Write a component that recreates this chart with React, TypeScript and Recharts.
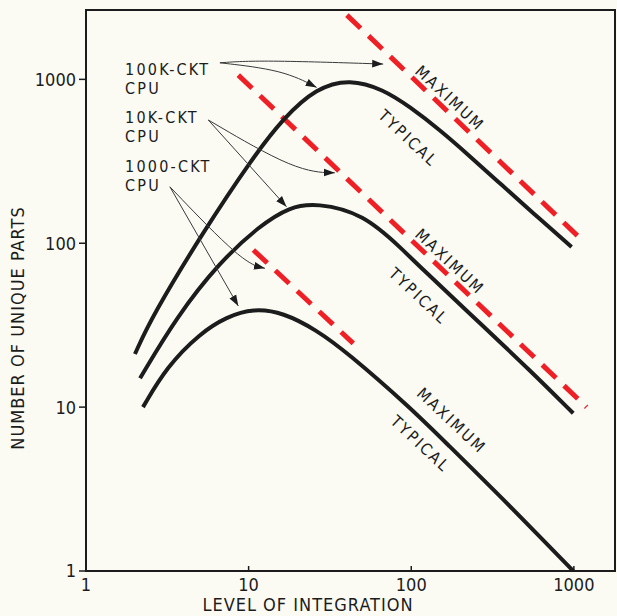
import { LineChart, Line, XAxis, YAxis, ReferenceDot, ReferenceArea, Label } from "recharts";

const FONT = "'DejaVu Sans Condensed', 'DejaVu Sans', sans-serif";
const INK = "#1c1c1c";
const RED = "#ee2026";

const X_TICKS = [1, 10, 100, 1000];
const Y_TICKS = [1, 10, 100, 1000];

// typical curves (level of integration, unique parts)
const CPU_100K = [
  [2.0, 21.1], [2.54, 35.6], [5.26, 117.5], [10.7, 337], [16.3, 578], [26.2, 890], [42, 1005],
  [67, 870], [98, 681], [150, 491], [219, 354], [351, 232], [560, 153], [968, 95],
];
const CPU_10K = [
  [2.15, 15], [3.61, 35.6], [6.66, 77], [11.7, 128], [17.9, 167], [26.2, 176], [50.7, 152],
  [89, 91], [113, 71.9], [264, 32.6], [536, 16.8], [991, 9.17],
];
const CPU_1K = [
  [2.24, 10], [3.13, 17.6], [5.02, 28.2], [7.33, 35.6], [10.7, 40], [16.3, 37.8], [26.2, 29.5],
  [40, 21.7], [98, 10], [165, 6.0], [351, 2.87], [562, 1.78], [991, 1.0],
];

// maximum lines
const MAX_100K = [[40.2, 2467], [1120, 104.7]];
const MAX_10K = [[8.64, 1062], [1197, 10]];
const MAX_1K = [[10.7, 90.9], [44, 24.5]];

// pointer arrows from the CPU labels
const ARROWS = [
  [[6.66, 1262], [11.7, 1312], [67.2, 1240]],
  [[6.66, 1262], [16.3, 1140], [26.2, 893]],
  [[5.65, 565], [19.7, 273], [33.9, 269]],
  [[5.65, 565], [17.1, 167]],
  [[3.28, 221], [9.27, 75.4], [12.6, 70.3]],
  [[3.28, 221], [8.64, 41.4]],
];

const CPU_LABELS = [
  { x: 1.74, y: 1062, text: "100K-CKT" },
  { x: 1.74, y: 541, text: "10K-CKT" },
  { x: 1.74, y: 272, text: "1000-CKT" },
];

const CURVE_LABELS = [
  { x: 173, y: 766, text: "MAXIMUM" },
  { x: 95.8, y: 437, text: "TYPICAL" },
  { x: 173, y: 77.1, text: "MAXIMUM" },
  { x: 111, y: 47.6, text: "TYPICAL" },
  { x: 177, y: 8.26, text: "MAXIMUM" },
  { x: 114, y: 5.96, text: "TYPICAL" },
];

const pts = (a: number[][]) => a.map(([x, y]) => ({ x, y }));

const XTick = ({ x, y, payload }: any) => (
  <g>
    <line x1={x} x2={x} y1={y} y2={y - 5} stroke={INK} strokeWidth={1.5} />
    <text x={x} y={y + 20} textAnchor="middle" fontSize={18} fill={INK} fontFamily={FONT}>
      {payload.value}
    </text>
  </g>
);

export default function App() {
  return (
    <div style={{ position: "absolute", left: 0, top: 0, width: 617, height: 616, background: "#fbfbf4" }}>
      <svg width={0} height={0} style={{ position: "absolute" }}>
        <defs>
          <marker id="arrowHead" viewBox="0 0 10 10" refX={10} refY={5} markerWidth={11} markerHeight={11}
            markerUnits="userSpaceOnUse" orient="auto">
            <path d="M0,1.5 L10,5 L0,8.5 z" fill={INK} />
          </marker>
        </defs>
      </svg>
      <LineChart width={617} height={616} margin={{ top: 10, right: 2, bottom: 0, left: 0 }}>
        <XAxis
          dataKey="x"
          type="number"
          scale="log"
          domain={[1, 1790]}
          allowDataOverflow
          ticks={X_TICKS}
          tickLine={false}
          tickSize={0}
          tickMargin={0}
          tick={<XTick />}
          height={45}
          axisLine={{ stroke: INK, strokeWidth: 2 }}
        >
          <Label
            content={({ viewBox }: any) => (
              <text x={viewBox.x + 222} y={viewBox.y + 40} textAnchor="middle" fontSize={18} fill={INK}
                fontFamily={FONT} letterSpacing={1}>
                LEVEL OF INTEGRATION
              </text>
            )}
          />
        </XAxis>
        <YAxis
          type="number"
          scale="log"
          domain={[1, 2650]}
          allowDataOverflow
          ticks={Y_TICKS}
          width={86}
          tickSize={7}
          tickMargin={3}
          tickLine={{ stroke: INK, strokeWidth: 1.5 }}
          tick={{ fontSize: 18, fill: INK, fontFamily: FONT }}
          axisLine={{ stroke: INK, strokeWidth: 2 }}
        >
          <Label
            content={({ viewBox }: any) => (
              <text x={17} y={viewBox.y + 318} textAnchor="middle" dominantBaseline="central" fontSize={18}
                fill={INK} fontFamily={FONT} letterSpacing={1}
                transform={`rotate(-90 17 ${viewBox.y + 318})`}>
                NUMBER OF UNIQUE PARTS
              </text>
            )}
          />
        </YAxis>
        <ReferenceArea x1={1} x2={1790} y1={1} y2={2650} fill="none" stroke={INK} strokeWidth={2} ifOverflow="visible" />

        {[MAX_100K, MAX_10K, MAX_1K].map((d, i) => (
          <Line key={"max" + i} data={pts(d)} dataKey="y" type="linear" stroke={RED} strokeWidth={5}
            strokeDasharray="19 11" dot={false} activeDot={false} isAnimationActive={false} />
        ))}
        {[CPU_100K, CPU_10K, CPU_1K].map((d, i) => (
          <Line key={"typ" + i} data={pts(d)} dataKey="y" type="basis" stroke={INK} strokeWidth={4}
            dot={false} activeDot={false} isAnimationActive={false} />
        ))}
        {ARROWS.map((d, i) => (
          <Line key={"arr" + i} data={pts(d)} dataKey="y" type="basis" stroke="#3a3a3a" strokeWidth={1}
            markerEnd="url(#arrowHead)" dot={false} activeDot={false} isAnimationActive={false} />
        ))}

        {CPU_LABELS.map((l, i) => (
          <ReferenceDot key={"cpu" + i} x={l.x} y={l.y} r={0}
            shape={(p: any) => (
              <g>
                <text x={p.cx} y={p.cy} fontSize={16} fill={INK} fontFamily={FONT} letterSpacing={2.2}>
                  {l.text}
                </text>
                <text x={p.cx} y={p.cy + 19} fontSize={16} fill={INK} fontFamily={FONT} letterSpacing={2.2}>
                  CPU
                </text>
              </g>
            )}
          />
        ))}
        {CURVE_LABELS.map((l, i) => (
          <ReferenceDot key={"lbl" + i} x={l.x} y={l.y} r={0}
            shape={(p: any) => (
              <text x={p.cx} y={p.cy} textAnchor="middle" dominantBaseline="central" fontSize={16} fill={INK}
                fontFamily={FONT} letterSpacing={2.3} transform={`rotate(43 ${p.cx} ${p.cy})`}>
                {l.text}
              </text>
            )}
          />
        ))}
      </LineChart>
    </div>
  );
}
